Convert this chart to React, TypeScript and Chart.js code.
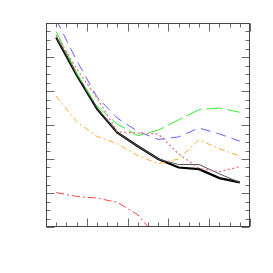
import React, { useEffect, useRef } from "react";
import { Chart, registerables } from "chart.js";

Chart.register(...registerables);

// x positions of the ten samples
const xValues = [0.5, 1.5, 2.5, 3.5, 4.5, 5.5, 6.5, 7.5, 8.5, 9.5];

// series values (in minor-tick units of the y axis, 0..24)
const blackThick = [22.3, 17.9, 13.9, 11.1, 9.5, 8.0, 7.0, 6.8, 5.75, 5.25];
const grayThin = [22.4, 18.0, 14.0, 11.1, 9.5, 8.0, 7.35, 7.35, 6.25, 5.25];
const greenDash = [23.0, 18.1, 14.2, 12.1, 10.75, 11.4, 12.6, 13.8, 14.0, 13.5];
const blueDash = [24.4, 19.6, 15.3, 12.8, 11.25, 10.3, 10.6, 11.65, 10.95, 10.1];
const pinkDot = [22.6, 18.6, 15.2, 11.2, 11.05, 10.95, 8.6, 6.9, 6.5, 7.1];
const orangeDashDot = [15.4, 12.4, 10.65, 9.8, 8.4, 7.45, 8.0, 10.27, 9.2, 8.35];
const redDashDot = [4.05, 3.6, 3.4, 2.9, 1.45, -1.4];

// axes
const xMin = 0;
const xMax = 10;
const xMinorStep = 0.5;
const xMajorStep = 2;
const yMin = 0;
const yMax = 24;
const yMinorStep = 1;
const yMajorStep = 4;

const pts = (ys: number[]) => ys.map((y, i) => ({ x: xValues[i], y }));

const frameTicks = {
  id: "frameTicks",
  afterDatasetsDraw(chart: any) {
    const { ctx, chartArea, scales } = chart;
    const xs = scales.x;
    const ys = scales.y;
    const L = Math.round(chartArea.left) + 0.5;
    const R = Math.round(chartArea.right) - 0.5;
    const T = Math.round(chartArea.top) + 0.5;
    const B = Math.round(chartArea.bottom) - 0.5;
    ctx.save();
    ctx.lineWidth = 1;
    ctx.strokeStyle = "#6a6a6a";
    const eps = 1e-6;
    for (let v = xMin; v <= xMax + eps; v += xMinorStep) {
      const major = Math.abs(v / xMajorStep - Math.round(v / xMajorStep)) < eps;
      const len = major ? 8 : 4;
      const px = Math.round(xs.getPixelForValue(v)) + 0.5;
      ctx.beginPath();
      ctx.moveTo(px, B);
      ctx.lineTo(px, B - len);
      ctx.moveTo(px, T);
      ctx.lineTo(px, T + len);
      ctx.stroke();
    }
    for (let v = yMin; v <= yMax + eps; v += yMinorStep) {
      const major = Math.abs(v / yMajorStep - Math.round(v / yMajorStep)) < eps;
      const len = major ? 8 : 4;
      const py = Math.round(ys.getPixelForValue(v)) + 0.5;
      ctx.beginPath();
      ctx.moveTo(L, py);
      ctx.lineTo(L + len, py);
      ctx.moveTo(R, py);
      ctx.lineTo(R - len, py);
      ctx.stroke();
    }
    ctx.strokeStyle = "#444";
    ctx.strokeRect(L, T, R - L, B - T);
    ctx.restore();
  },
};

export default function App() {
  const ref = useRef<HTMLCanvasElement>(null);
  useEffect(() => {
    if (!ref.current) return;
    const base = { fill: false, pointRadius: 0, tension: 0, borderWidth: 1 };
    const chart = new Chart(ref.current, {
      type: "line",
      data: {
        datasets: [
          { ...base, data: pts(redDashDot), borderColor: "#ff4444", borderDash: [8, 3, 2, 3] },
          { ...base, data: pts(orangeDashDot), borderColor: "#ffaa33", borderDash: [6, 3, 2, 3] },
          { ...base, data: pts(pinkDot), borderColor: "#e07878", borderWidth: 1.3, borderDash: [2, 2.5] },
          { ...base, data: pts(blueDash), borderColor: "#6060ff", borderDash: [10, 6] },
          { ...base, data: pts(greenDash), borderColor: "#33ee33", borderDash: [16, 5] },
          { ...base, data: pts(grayThin), borderColor: "#555555" },
          { ...base, data: pts(blackThick), borderColor: "#000000", borderWidth: 2.2 },
        ],
      },
      options: {
        animation: false,
        responsive: false,
        devicePixelRatio: 1,
        layout: { padding: { left: 38, right: 15, top: 15, bottom: 38 } },
        plugins: { legend: { display: false }, tooltip: { enabled: false } },
        scales: {
          x: { type: "linear", min: xMin, max: xMax, display: false },
          y: { type: "linear", min: yMin, max: yMax, display: false },
        },
      },
      plugins: [frameTicks],
    });
    return () => chart.destroy();
  }, []);
  return <canvas ref={ref} width={257} height={257} style={{ display: "block" }} />;
}
